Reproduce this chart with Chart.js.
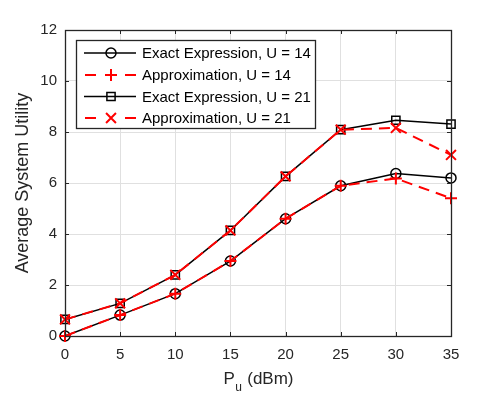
<!DOCTYPE html>
<html>
<head>
<meta charset="utf-8">
<script src="https://cdn.jsdelivr.net/npm/chart.js@4.4.1/dist/chart.umd.min.js"></script>
<style>
  html, body { margin: 0; padding: 0; background: #fff; }
  #wrap { width: 498px; height: 399px; }
</style>
</head>
<body>
<div id="wrap"><canvas id="myChart" width="498" height="399"></canvas></div>
<script>
// values
const powerDbm = [0, 5, 10, 15, 20, 25, 30, 35];
const exact14 = [0.00, 0.82, 1.66, 2.94, 4.60, 5.89, 6.37, 6.20];
const approx14 = [0.00, 0.82, 1.66, 2.94, 4.60, 5.89, 6.18, 5.40];
const exact21 = [0.65, 1.28, 2.40, 4.14, 6.26, 8.09, 8.46, 8.31];
const approx21 = [0.65, 1.28, 2.40, 4.14, 6.26, 8.09, 8.16, 7.10];
const seriesNames = ['Exact Expression, U = 14', 'Approximation, U = 14', 'Exact Expression, U = 21', 'Approximation, U = 21'];
const xTickValues = [0, 5, 10, 15, 20, 25, 30, 35];
const yTickValues = [0, 2, 4, 6, 8, 10, 12];

const FONT = '"Liberation Sans", Arial, Helvetica, sans-serif';
const AXIS_COLOR = '#262626';

function toPoints(ys) {
    return powerDbm.map((x, i) => ({ x: x, y: ys[i] }));
}

function lineSet(name, ys, color, marker, radius, dashed, order) {
    return {
        label: name,
        data: toPoints(ys),
        borderColor: color,
        backgroundColor: 'rgba(0,0,0,0)',
        borderWidth: dashed ? 2 : 1.5,
        borderDash: dashed ? [11, 7] : [],
        pointStyle: marker,
        pointRadius: radius,
        pointHoverRadius: radius,
        pointBorderColor: color,
        pointBackgroundColor: 'rgba(0,0,0,0)',
        pointBorderWidth: dashed ? 2 : 1.5,
        tension: 0,
        clip: false,
        order: order
    };
}

const data = {
    datasets: [
        lineSet(seriesNames[0], exact14, '#000000', 'circle', 5, false, 2),
        lineSet(seriesNames[1], approx14, '#ff0000', 'cross', 6, true, 1),
        lineSet(seriesNames[2], exact21, '#000000', 'rect', 5.8, false, 2),
        lineSet(seriesNames[3], approx21, '#ff0000', 'crossRot', 7, true, 1)
    ]
};

function drawMarker(ctx, style, r, x, y) {
    ctx.beginPath();
    if (style === 'circle') {
        ctx.arc(x, y, r, 0, Math.PI * 2);
    } else if (style === 'rect') {
        const s = Math.SQRT1_2 * r;
        ctx.rect(x - s, y - s, 2 * s, 2 * s);
    } else if (style === 'cross') {
        ctx.moveTo(x - r, y); ctx.lineTo(x + r, y);
        ctx.moveTo(x, y - r); ctx.lineTo(x, y + r);
    } else if (style === 'crossRot') {
        const d = Math.SQRT1_2 * r;
        ctx.moveTo(x - d, y - d); ctx.lineTo(x + d, y + d);
        ctx.moveTo(x - d, y + d); ctx.lineTo(x + d, y - d);
    }
    ctx.stroke();
}

// frame, inward ticks, legend box and axis titles (MATLAB look)
const matlabDecor = {
    id: 'matlabDecor',
    afterDraw(chart) {
        const ctx = chart.ctx;
        const a = chart.chartArea;
        const xs = chart.scales.x, ys = chart.scales.y;
        ctx.save();

        // inward ticks
        ctx.strokeStyle = AXIS_COLOR;
        ctx.lineWidth = 1;
        ctx.beginPath();
        xTickValues.forEach(v => {
            const px = Math.round(xs.getPixelForValue(v)) + 0.5;
            ctx.moveTo(px, a.bottom); ctx.lineTo(px, a.bottom - 4);
            ctx.moveTo(px, a.top); ctx.lineTo(px, a.top + 4);
        });
        yTickValues.forEach(v => {
            const py = Math.round(ys.getPixelForValue(v)) + 0.5;
            ctx.moveTo(a.left, py); ctx.lineTo(a.left + 4, py);
            ctx.moveTo(a.right, py); ctx.lineTo(a.right - 4, py);
        });
        ctx.stroke();

        // box
        ctx.lineWidth = 1.3;
        ctx.strokeRect(Math.round(a.left) + 0.5, Math.round(a.top) + 0.5,
            Math.round(a.right - a.left), Math.round(a.bottom - a.top));

        // legend
        const lx = 76.5, ly = 40.5, lw = 239, lh = 88;
        ctx.fillStyle = '#ffffff';
        ctx.fillRect(lx, ly, lw, lh);
        ctx.strokeStyle = AXIS_COLOR;
        ctx.lineWidth = 1.3;
        ctx.strokeRect(lx, ly, lw, lh);
        const rowY = [53, 75, 96.5, 118];
        chart.data.datasets.forEach((ds, i) => {
            const y = rowY[i];
            ctx.strokeStyle = ds.borderColor;
            ctx.lineWidth = ds.borderWidth;
            ctx.beginPath();
            if (ds.borderDash.length) {
                ctx.moveTo(85, y); ctx.lineTo(96, y);
                ctx.moveTo(125, y); ctx.lineTo(136, y);
            } else {
                ctx.moveTo(84, y); ctx.lineTo(136, y);
            }
            ctx.stroke();
            ctx.strokeStyle = ds.pointBorderColor;
            ctx.lineWidth = ds.pointBorderWidth;
            drawMarker(ctx, ds.pointStyle, ds.pointRadius, 111, y);
            ctx.fillStyle = '#000000';
            ctx.font = '15px ' + FONT;
            ctx.textBaseline = 'middle';
            ctx.textAlign = 'left';
            ctx.fillText(ds.label, 142, y + 1);
        });

        // axis titles
        ctx.fillStyle = AXIS_COLOR;
        ctx.textBaseline = 'alphabetic';
        ctx.textAlign = 'left';
        const cx = (a.left + a.right) / 2;
        ctx.font = '17px ' + FONT;
        const pW = ctx.measureText('P').width;
        const restText = ' (dBm)';
        const restW = ctx.measureText(restText).width;
        ctx.font = '12px ' + FONT;
        const subW = ctx.measureText('u').width;
        const x0 = cx - (pW + subW + restW) / 2;
        ctx.font = '17px ' + FONT;
        ctx.fillText('P', x0, 384);
        ctx.font = '12px ' + FONT;
        ctx.fillText('u', x0 + pW + 0.5, 391);
        ctx.font = '17px ' + FONT;
        ctx.fillText(restText, x0 + pW + subW + 1, 384);

        ctx.translate(28, (a.top + a.bottom) / 2);
        ctx.rotate(-Math.PI / 2);
        ctx.font = '18px ' + FONT;
        ctx.textAlign = 'center';
        ctx.fillText('Average System Utility', 0, 0);
        ctx.restore();
    }
};

const config = {
    type: 'line',
    data: data,
    options: {
        responsive: false,
        animation: false,
        devicePixelRatio: 1,
        layout: { padding: { top: 30, right: 47, left: 0, bottom: 0 } },
        plugins: {
            legend: { display: false },
            tooltip: { enabled: false },
            title: { display: false }
        },
        scales: {
            x: {
                type: 'linear',
                min: 0,
                max: 35,
                afterFit: function (scale) { scale.height = 63; },
                afterBuildTicks: function (scale) {
                    scale.ticks = xTickValues.map(v => ({ value: v }));
                },
                grid: { color: '#e0e0e0', lineWidth: 1, drawTicks: false },
                border: { display: false },
                ticks: {
                    padding: 10,
                    color: AXIS_COLOR,
                    font: { family: FONT, size: 15 },
                    maxRotation: 0
                }
            },
            y: {
                type: 'linear',
                min: 0,
                max: 12,
                afterFit: function (scale) { scale.width = 65; },
                afterBuildTicks: function (scale) {
                    scale.ticks = yTickValues.map(v => ({ value: v }));
                },
                grid: { color: '#e0e0e0', lineWidth: 1, drawTicks: false },
                border: { display: false },
                ticks: {
                    padding: 8,
                    color: AXIS_COLOR,
                    font: { family: FONT, size: 15 }
                }
            }
        }
    },
    plugins: [matlabDecor]
};

window.myChart = new Chart(document.getElementById('myChart'), config);
</script>
</body>
</html>
